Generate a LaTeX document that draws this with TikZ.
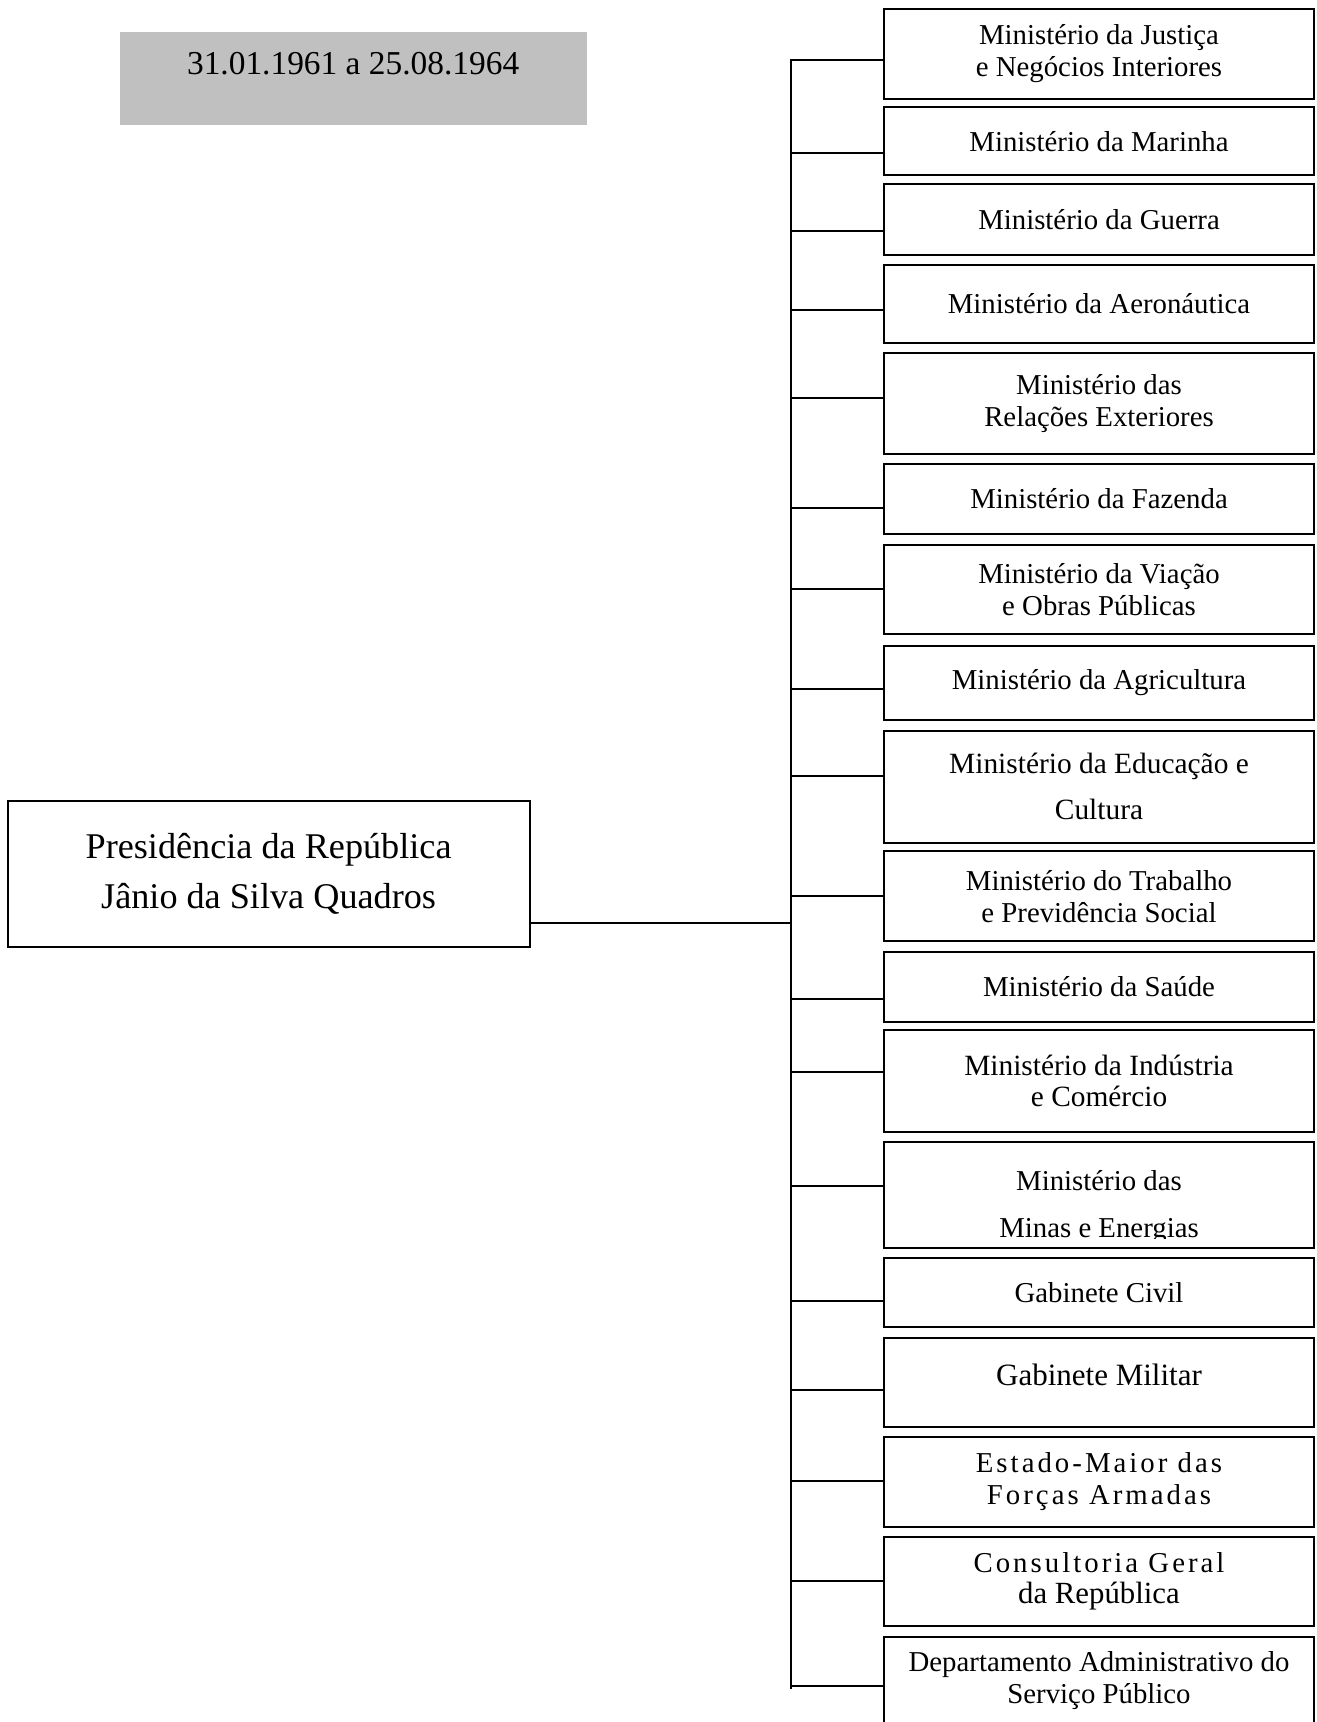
\documentclass[tikz,border=0pt]{standalone}
\usepackage{fontspec}
\setmainfont{Liberation Serif}
\usetikzlibrary{calc}
\definecolor{datebg}{RGB}{192,192,192}
\begin{document}
\begin{tikzpicture}[x=0.5pt,y=-0.5pt,
  org/.style={draw, line width=1pt, inner sep=0pt, minimum width=214.75pt,
    align=center, font=\fontsize{14.4}{15.9}\selectfont},
  link/.style={line width=1pt},
  spaced/.style={font=\fontsize{14.4}{15.9}\selectfont\addfontfeature{LetterSpace=10.5}}
]
\useasboundingbox (0,0) rectangle (1316,1722);
\clip (0,0) rectangle (1316,1722);

% period
\node[fill=datebg, inner sep=0pt, minimum width=233.45pt, minimum height=46.65pt,
  font=\fontsize{16.7}{20}\selectfont, text height=11.5pt, text depth=15.3pt]
  (period) at (353.15,78.55) {31.01.1961 a 25.08.1964};

% presidency
\node[draw, line width=1pt, inner sep=0pt, minimum width=260.9pt, minimum height=73.05pt,
  align=center, font=\fontsize{18.1}{24.75}\selectfont]
  (pres) at (268.6,873.9) {Presidência da República\\Jânio da Silva Quadros};

% ministries
\node[org, minimum height=45pt]    (b1)  at (1099,54)      {Ministério da Justiça\\e Negócios Interiores};
\node[org, minimum height=34pt]    (b2)  at (1099,141.5)   {Ministério da Marinha};
\node[org, minimum height=35.2pt]  (b3)  at (1099,219.7)   {Ministério da Guerra};
\node[org, minimum height=39pt]    (b4)  at (1099,303.7)   {Ministério da Aeronáutica};
\node[org, minimum height=50.55pt] (b5)  at (1099,403.2)   {Ministério das\\Relações Exteriores};
\node[org, minimum height=35.15pt] (b6)  at (1099,498.75)  {Ministério da Fazenda};
\node[org, minimum height=44.45pt] (b7)  at (1099,589.35)  {Ministério da Viação\\e Obras Públicas};
\node[org, minimum height=36.8pt]  (b8)  at (1099,682.7)   {Ministério da Agricultura};
\node[org, minimum height=56pt, font=\fontsize{14.7}{23.3}\selectfont]
                                   (b9)  at (1099,786.5)   {Ministério da Educação e\\Cultura};
\node[org, minimum height=45.05pt] (b10) at (1099,896.35)  {Ministério do Trabalho\\e Previdência Social};
\node[org, minimum height=34.6pt]  (b11) at (1099,987)     {Ministério da Saúde};
\node[org, minimum height=50.55pt, font=\fontsize{14.7}{15.9}\selectfont]
                                   (b12) at (1099,1080.95) {Ministério da Indústria\\e Comércio};
\node[org, minimum height=52.75pt, path picture={
    \clip (path picture bounding box.north west) rectangle ($(path picture bounding box.south east)+(0,-9.4)$);
    \node[align=center, inner sep=0pt, font=\fontsize{14.4}{23.65}\selectfont]
      at ($(path picture bounding box.center)+(0,11.85)$) {Ministério das\\Minas e Energias};
  }]                               (b13) at (1099,1195.15) {};
\node[org, minimum height=34.6pt]  (b14) at (1099,1292.4)  {Gabinete Civil};
\node[org, minimum height=44.5pt, font=\fontsize{15.5}{18}\selectfont, text depth=8pt]
                                   (b15) at (1099,1382.5)  {Gabinete Militar};
\node[org, spaced, minimum height=45.05pt] (b16) at (1099,1481.85) {Estado-Maior das\\Forças Armadas};
\node[org, minimum height=44.5pt]  (b17) at (1099,1581.3)  {{\addfontfeature{LetterSpace=10.5}Consultoria Geral}\\{\fontsize{15.4}{15.9}\selectfont da República}};
\node[org, minimum height=44.1pt]  (b18) at (1099,1680.9)  {Departamento Administrativo do\\Serviço Público};

% connectors
\coordinate (tbot) at (791,1689);
\coordinate (hub) at (791,923);
\draw[link] (b1.west |- 0,60) -| (tbot);
\draw[link] (pres.east |- hub) -- (hub);
\foreach \n/\y in {2/153,3/231,4/310,5/398,6/508,7/589,8/689,9/776,
  10/896,11/999,12/1072,13/1186,14/1301,15/1390,16/1481,17/1581,18/1686}
  \draw[link] (b\n.west |- 0,\y) -- (tbot |- 0,\y);
\end{tikzpicture}
\end{document}
